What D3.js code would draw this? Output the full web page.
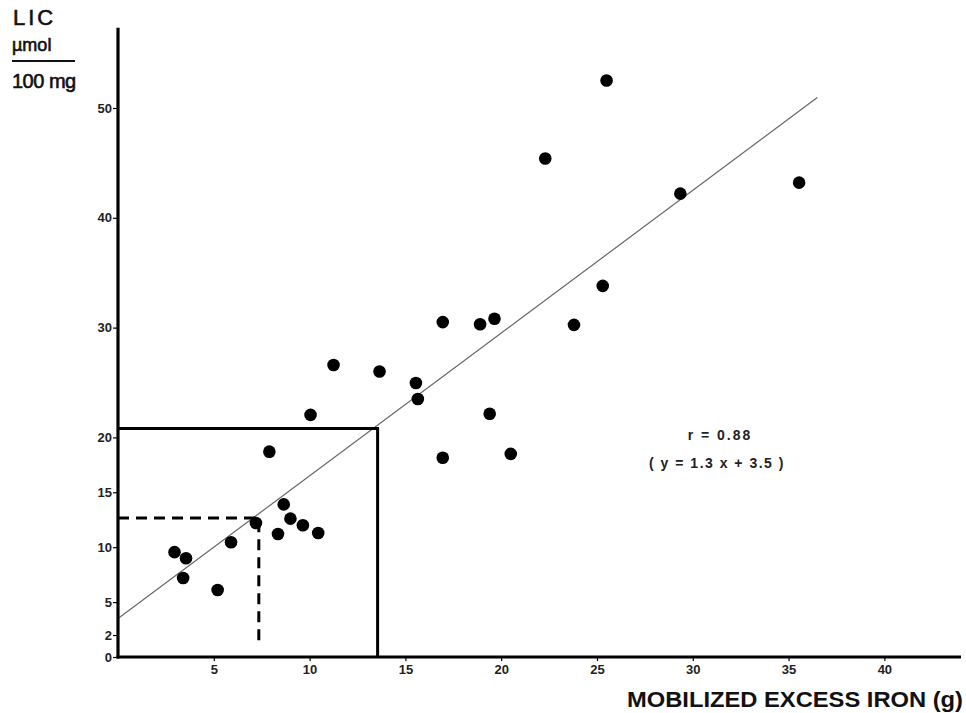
<!DOCTYPE html>
<html>
<head>
<meta charset="utf-8">
<script src="https://cdn.jsdelivr.net/npm/d3@7"></script>
<style>
  html, body { margin: 0; padding: 0; background: #fff; }
  svg { display: block; font-family: "Liberation Sans", Arial, sans-serif; }
</style>
</head>
<body>
<svg id="chart" width="966" height="713"></svg>
<script>
// mobilized excess iron (g) vs liver iron concentration (umol / 100 mg)
const ironX = [25.5, 22.3, 29.35, 35.55, 25.3, 23.8, 16.95, 18.9, 19.65, 11.25, 13.65, 15.55, 15.65, 10.05, 19.4,
    16.95, 20.5, 7.9, 8.65, 9.0, 9.65, 10.45, 8.35, 7.2, 5.9, 2.95, 3.55, 3.4, 5.2];
const licY = [52.5, 45.4, 42.2, 43.2, 33.8, 30.25, 30.5, 30.3, 30.8, 26.6, 26.0, 24.95, 23.5, 22.05, 22.15,
    18.15, 18.5, 18.7, 13.9, 12.6, 12.0, 11.3, 11.2, 12.2, 10.45, 9.55, 9.0, 7.2, 6.1];
const xTicks = [5, 10, 15, 20, 25, 30, 35, 40];
const yTicks = [0, 2, 5, 10, 15, 20, 30, 40, 50];
const fitSlope = 1.3;
const fitIntercept = 3.5;
const fitRange = [0, 36.5];
const boxCorner = [13.55, 20.8];     // solid reference lines
const dashCorner = [7.35, 12.65];    // dashed reference lines

const svg = d3.select('#chart');

const x = d3.scaleLinear().domain([0, 44]).range([118, 961]);
const y = d3.scaleLinear().domain([0, 50]).range([657, 108]);

// regression line
svg.append('line')
    .attr('x1', x(fitRange[0])).attr('y1', y(fitSlope * fitRange[0] + fitIntercept))
    .attr('x2', x(fitRange[1])).attr('y2', y(fitSlope * fitRange[1] + fitIntercept))
    .attr('stroke', '#666')
    .attr('stroke-width', 1.2);

// solid box
svg.append('path')
    .attr('d', `M${x(0)},${y(boxCorner[1])}H${x(boxCorner[0])}V${y(0)}`)
    .attr('fill', 'none')
    .attr('stroke', '#000')
    .attr('stroke-width', 3);

// dashed box
svg.append('path')
    .attr('d', `M${x(0)},${y(dashCorner[1])}H${x(dashCorner[0])}V${y(1.1)}`)
    .attr('fill', 'none')
    .attr('stroke', '#000')
    .attr('stroke-width', 3)
    .attr('stroke-dasharray', '11,7');

// axes
const styleTicks = g => {
    g.select('.domain').remove();
    g.selectAll('text')
        .attr('font-size', 13)
        .attr('font-weight', 'bold')
        .attr('fill', '#222')
        .attr('font-family', '"Liberation Sans", Arial, sans-serif');
    g.selectAll('line').attr('stroke-width', 1.2);
};

const yAxis = d3.axisLeft(y).tickValues(yTicks).tickSize(5).tickSizeOuter(0).tickPadding(1);
svg.append('g').attr('transform', `translate(${x(0)},0)`).call(yAxis).call(styleTicks);

const xAxis = d3.axisBottom(x).tickValues(xTicks).tickSize(4).tickSizeOuter(0).tickPadding(4);
svg.append('g').attr('transform', `translate(0,${y(0)})`).call(xAxis).call(styleTicks);

svg.append('line')
    .attr('x1', x(0)).attr('x2', x(0))
    .attr('y1', y(0) + 1.5).attr('y2', y(57.3))
    .attr('stroke', '#000').attr('stroke-width', 3.2);
svg.append('line')
    .attr('x1', x(0) - 1.5).attr('x2', x(44))
    .attr('y1', y(0)).attr('y2', y(0))
    .attr('stroke', '#000').attr('stroke-width', 3.2);

// points
svg.append('g')
    .selectAll('circle')
    .data(ironX.map((v, i) => [v, licY[i]]))
    .join('circle')
    .attr('cx', d => x(d[0]))
    .attr('cy', d => y(d[1]))
    .attr('r', 6.3)
    .attr('fill', '#000');

// y axis title (fraction)
const title = svg.append('g').attr('fill', '#111').attr('stroke', '#111').attr('stroke-width', 0.6);
title.append('text').attr('x', 13).attr('y', 25)
    .attr('font-size', 22).attr('letter-spacing', 3).text('LIC');
title.append('text').attr('x', 12).attr('y', 51)
    .attr('font-size', 18).text('µmol');
title.append('line').attr('x1', 12).attr('x2', 75).attr('y1', 61).attr('y2', 61)
    .attr('stroke-width', 2);
title.append('text').attr('x', 12).attr('y', 88)
    .attr('font-size', 20).attr('letter-spacing', -0.5).text('100 mg');

// x axis title
svg.append('text')
    .attr('x', 963).attr('y', 707)
    .attr('text-anchor', 'end')
    .attr('font-size', 22)
    .attr('font-weight', 'bold')
    .attr('fill', '#111')
    .attr('textLength', 336)
    .attr('lengthAdjust', 'spacingAndGlyphs')
    .text('MOBILIZED EXCESS IRON (g)');

// correlation note
const note = svg.append('g')
    .attr('font-size', 14)
    .attr('font-weight', 'bold')
    .attr('fill', '#222')
    .attr('text-anchor', 'middle');
note.append('text').attr('x', 720).attr('y', 440)
    .attr('letter-spacing', 2).text('r = 0.88');
note.append('text').attr('x', 717).attr('y', 468)
    .attr('letter-spacing', 1.5).text('( y = 1.3 x + 3.5 )');
</script>
</body>
</html>
